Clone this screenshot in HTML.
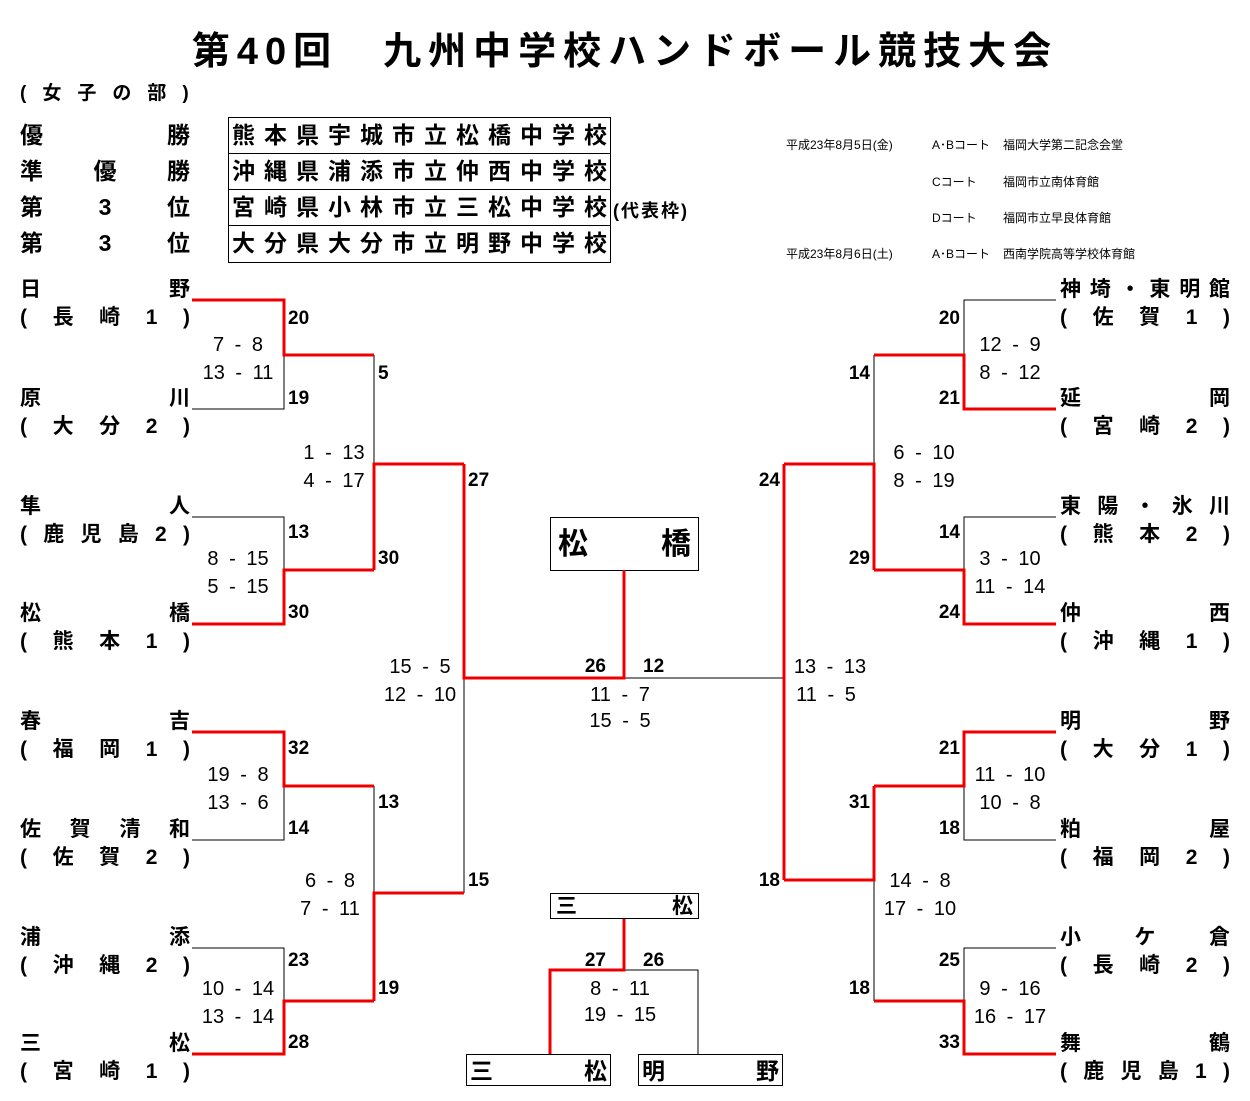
<!DOCTYPE html>
<html><head><meta charset="utf-8"><style>
body{margin:0;width:1250px;height:1101px;background:#fff;position:relative;overflow:hidden;font-family:"Liberation Sans","Noto Sans CJK JP",sans-serif;color:#000}
.a{position:absolute;white-space:nowrap}
.t{font-weight:bold;font-size:21px;display:flex;justify-content:space-between;width:170px;line-height:24px}
.s{font-weight:bold;font-size:19px;line-height:22px}
.p{font-weight:normal;font-size:20px;word-spacing:5px}
.box{position:absolute;border:1.5px solid #000;box-sizing:border-box}
.sm{font-size:12px}
</style></head><body>
<div class="a" style="left:0;width:1250px;text-align:center;top:20px;font-size:38px;font-weight:bold;letter-spacing:7px">第40回　九州中学校ハンドボール競技大会</div>
<div class="a" style="left:20px;top:78px;font-size:19px;font-weight:bold;letter-spacing:16px">(女子の部)</div>
<div id="root"></div>
<div class="a sm" style="left:786px;top:136px">平成23年8月5日(金)</div>
<div class="a sm" style="left:932px;top:136px">A･Bコート</div><div class="a sm" style="left:1003px;top:136px">福岡大学第二記念会堂</div>
<div class="a sm" style="left:932px;top:173px">Cコート</div><div class="a sm" style="left:1003px;top:173px">福岡市立南体育館</div>
<div class="a sm" style="left:932px;top:209px">Dコート</div><div class="a sm" style="left:1003px;top:209px">福岡市立早良体育館</div>
<div class="a sm" style="left:786px;top:245px">平成23年8月6日(土)</div>
<div class="a sm" style="left:932px;top:245px">A･Bコート</div><div class="a sm" style="left:1003px;top:245px">西南学院高等学校体育館</div>
<div class="a" style="left:613px;top:197px;font-size:18px;font-weight:bold;letter-spacing:2px">(代表枠)</div>
<svg class="a" style="left:0;top:0" width="1250" height="1101" id="sv"></svg>
<script>
var R=document.getElementById('root');
function add(h){R.insertAdjacentHTML('beforeend',h);}
function team(x,y,n){add('<div class="a t" style="left:'+x+'px;top:'+y+'px">'+n.split('').map(c=>'<span>'+c+'</span>').join('')+'</div>');}
var lab=[['優','','勝'],['準','優','勝'],['第','3','位'],['第','3','位']];
var sch=['熊本県宇城市立松橋中学校','沖縄県浦添市立仲西中学校','宮崎県小林市立三松中学校','大分県大分市立明野中学校'];
for(var i=0;i<4;i++){var y=117+i*36;
 add('<div class="a t" style="left:20px;top:'+(y+6)+'px;font-size:23px">'+lab[i].map(c=>'<span>'+c+'</span>').join('')+'</div>');
 add('<div class="box" style="left:228px;top:'+y+'px;width:383px;height:'+(i==3?38:37)+'px"></div>');
 add('<div class="a t" style="left:232px;top:'+(y+6)+'px;width:375px;font-size:23px">'+sch[i].split('').map(c=>'<span>'+c+'</span>').join('')+'</div>');}
var L=[['日野','(長崎1)'],['原川','(大分2)'],['隼人','(鹿児島2)'],['松橋','(熊本1)'],['春吉','(福岡1)'],['佐賀清和','(佐賀2)'],['浦添','(沖縄2)'],['三松','(宮崎1)']];
var Rt=[['神埼・東明館','(佐賀1)'],['延岡','(宮崎2)'],['東陽・氷川','(熊本2)'],['仲西','(沖縄1)'],['明野','(大分1)'],['粕屋','(福岡2)'],['小ケ倉','(長崎2)'],['舞鶴','(鹿児島1)']];
var ty=[300,409,517,624,732,840,948,1054];
for(var i=0;i<8;i++){team(20,ty[i]-22,L[i][0]);team(20,ty[i]+6,L[i][1]);team(1060,ty[i]-22,Rt[i][0]);team(1060,ty[i]+6,Rt[i][1]);}
function s(x,y,t){add('<div class="a s" style="left:'+x+'px;top:'+(y-11)+'px">'+t+'</div>');}
function p(x,y,t){add('<div class="a s p" style="left:'+(x-60)+'px;top:'+(y-11)+'px;width:120px;text-align:center">'+t+'</div>');}
function sr(x,y,t){add('<div class="a s" style="left:'+(x-60)+'px;top:'+(y-11)+'px;width:60px;text-align:right">'+t+'</div>');}
[[288,319,'20'],[288,399,'19'],[288,533,'13'],[288,613,'30'],[288,749,'32'],[288,829,'14'],[288,961,'23'],[288,1043,'28'],
[378,374,'5'],[378,559,'30'],[378,803,'13'],[378,989,'19'],[468,481,'27'],[468,881,'15']].forEach(a=>s(a[0],a[1],a[2]));
[[960,319,'20'],[960,399,'21'],[960,533,'14'],[960,613,'24'],[960,749,'21'],[960,829,'18'],[960,961,'25'],[960,1043,'33'],
[870,374,'14'],[870,559,'29'],[870,803,'31'],[870,989,'18'],[780,481,'24'],[780,881,'18'],[606,667,'26'],[606,961,'27']].forEach(a=>sr(a[0],a[1],a[2]));
s(643,667,'12');s(643,961,'26');
[[238,345,'7 - 8'],[238,373,'13 - 11'],[238,559,'8 - 15'],[238,587,'5 - 15'],[238,775,'19 - 8'],[238,803,'13 - 6'],[238,989,'10 - 14'],[238,1017,'13 - 14'],
[334,453,'1 - 13'],[334,481,'4 - 17'],[330,881,'6 - 8'],[330,909,'7 - 11'],[420,667,'15 - 5'],[420,695,'12 - 10'],
[620,695,'11 - 7'],[620,721,'15 - 5'],[620,989,'8 - 11'],[620,1015,'19 - 15'],
[1010,345,'12 - 9'],[1010,373,'8 - 12'],[1010,559,'3 - 10'],[1010,587,'11 - 14'],[1010,775,'11 - 10'],[1010,803,'10 - 8'],[1010,989,'9 - 16'],[1010,1017,'16 - 17'],
[924,453,'6 - 10'],[924,481,'8 - 19'],[920,881,'14 - 8'],[920,909,'17 - 10'],[830,667,'13 - 13'],[826,695,'11 - 5']].forEach(a=>p(a[0],a[1],a[2]));
add('<div class="box" style="left:550px;top:517px;width:149px;height:54px;border-width:1px"></div><div class="a t" style="left:558px;top:530px;width:133px;font-size:30px;line-height:30px"><span>松</span><span>橋</span></div>');
add('<div class="box" style="left:550px;top:893px;width:149px;height:26px;border-width:1px"></div><div class="a t" style="left:556px;top:895px;width:137px"><span>三</span><span>松</span></div>');
add('<div class="box" style="left:466px;top:1054px;width:145px;height:32px;border-width:1px"></div><div class="a t" style="left:470px;top:1059px;width:137px;font-size:23px"><span>三</span><span>松</span></div>');
add('<div class="box" style="left:638px;top:1054px;width:145px;height:32px;border-width:1px"></div><div class="a t" style="left:642px;top:1059px;width:137px;font-size:23px"><span>明</span><span>野</span></div>');
var B=[],Rd=[];
function K(q){B.push(q);}function Q(q){Rd.push(q);}
Q('M192 300H284V355H374');K('M284 355V409H192');
K('M192 517H284V570');Q('M192 624H284V570H374');
K('M374 355V464');Q('M374 570V464H464');
Q('M192 732H284V786H374');K('M284 786V840H192');
K('M192 948H284V1001');Q('M192 1054H284V1001H374');
K('M374 786V893');Q('M374 1001V893H464');
Q('M464 464V678H624V570');K('M464 678V893');
K('M1056 300H964V355');Q('M1056 409H964V355H874');
K('M1056 517H964V570');Q('M1056 624H964V570H874');
K('M874 355V464');Q('M874 570V464H784');
Q('M1056 732H964V786H874');K('M964 786V840H1056');
K('M1056 948H964V1001');Q('M1056 1054H964V1001H874');
Q('M874 786V880H784');K('M874 880V1001');
Q('M784 464V880');K('M624 678H784');
Q('M624 919V970H550V1054');K('M624 970H698V1054');
var sv=document.getElementById('sv');
sv.innerHTML='<path d="'+B.join(' ')+'" fill="none" stroke="#000" stroke-width="1"/><path d="'+Rd.join(' ')+'" fill="none" stroke="#e00" stroke-width="3"/>';
</script>
</body></html>
